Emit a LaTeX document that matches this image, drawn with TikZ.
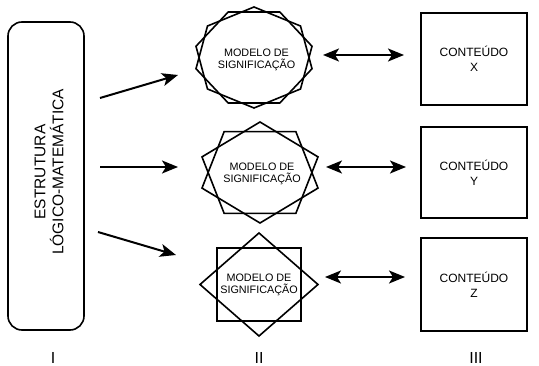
\documentclass[tikz,border=0pt]{standalone}
\usepackage{fontspec}
\setmainfont{Liberation Sans}
\usetikzlibrary{arrows.meta}
\tikzset{
  outline/.style={draw=black, line width=1.6pt, line join=miter},
  modelo/.style={align=center, inner sep=0pt, font=\fontsize{10.8}{12}\selectfont},
  conteudo/.style={outline, minimum width=106pt, minimum height=92pt, align=center, inner sep=0pt, font=\fontsize{12}{15}\selectfont},
  bigarrow/.style={line width=2pt, -{Stealth[length=16pt,width=13pt,inset=4pt]}},
  dblarrow/.style={line width=2pt, {Stealth[length=16pt,width=13pt,inset=4pt]}-{Stealth[length=16pt,width=13pt,inset=4pt]}},
  colnum/.style={font=\fontsize{16}{16}\selectfont, inner sep=0pt}
}
\begin{document}
\begin{tikzpicture}[x=1pt,y=-1pt]
\useasboundingbox (0,0) rectangle (539,366);
\fill[white] (0,0) rectangle (539,366);

% column I
\node[outline, rounded corners=14pt, minimum width=76pt, minimum height=308pt] (est) at (46,176) {};
\node[rotate=90, align=center, inner sep=0pt, font=\fontsize{15.5}{18}\selectfont] (estlbl) at (49,172) {ESTRUTURA\\LÓGICO-MATEMÁTICA};

% column II shapes
\begin{scope}[shift={(254,57.5)}]
  \draw[outline] (90:59.5 and 50.5) \foreach \k in {1,...,6}{ -- ({90+\k*360/7}:59.5 and 50.5)} -- cycle;
  \draw[outline] (270:59.5 and 50.5) \foreach \k in {1,...,6}{ -- ({270+\k*360/7}:59.5 and 50.5)} -- cycle;
\end{scope}
\begin{scope}[shift={(260,172.5)}]
  \draw[outline] (90:61 and 50.5) \foreach \a in {162,234,306,378}{ -- (\a:61 and 50.5)} -- cycle;
  \draw[outline] (270:61 and 50.5) \foreach \a in {342,414,486,558}{ -- (\a:61 and 50.5)} -- cycle;
\end{scope}
\begin{scope}[shift={(259,284.5)}]
  \draw[outline] (0:59 and 51.5) -- (90:59 and 51.5) -- (180:59 and 51.5) -- (270:59 and 51.5) -- cycle;
  \draw[outline] (45:59 and 51.5) -- (135:59 and 51.5) -- (225:59 and 51.5) -- (315:59 and 51.5) -- cycle;
\end{scope}
\node[modelo] (m1) at (256.5,59.5) {MODELO DE\\SIGNIFICAÇÃO};
\node[modelo] (m2) at (262,174) {MODELO DE\\SIGNIFICAÇÃO};
\node[modelo] (m3) at (259,284.5) {MODELO DE\\SIGNIFICAÇÃO};

% column III
\node[conteudo] (c1) at (474,59) {CONTEÚDO\\X};
\node[conteudo, minimum height=91pt] (c2) at (474,172.5) {CONTEÚDO\\Y};
\node[conteudo, minimum height=93pt] (c3) at (474,284.5) {CONTEÚDO\\Z};

% arrows
\coordinate (a1s) at (100,98);  \coordinate (a1e) at (178,75);
\coordinate (a2s) at (100,167); \coordinate (a2e) at (178,167);
\coordinate (a3s) at (98,232);  \coordinate (a3e) at (176,255);
\draw[bigarrow] (a1s) -- (a1e);
\draw[bigarrow] (a2s) -- (a2e);
\draw[bigarrow] (a3s) -- (a3e);

\coordinate (d1s) at (323,55);  \coordinate (d1e) at (404,55);
\coordinate (d2s) at (326,167); \coordinate (d2e) at (406,167);
\coordinate (d3s) at (325,277); \coordinate (d3e) at (405,277);
\draw[dblarrow] (d1s) -- (d1e);
\draw[dblarrow] (d2s) -- (d2e);
\draw[dblarrow] (d3s) -- (d3e);

% column labels
\node[colnum] (l1) at (53,358) {I};
\node[colnum] (l2) at (259,358) {II};
\node[colnum] (l3) at (476,358) {III};
\end{tikzpicture}
\end{document}
